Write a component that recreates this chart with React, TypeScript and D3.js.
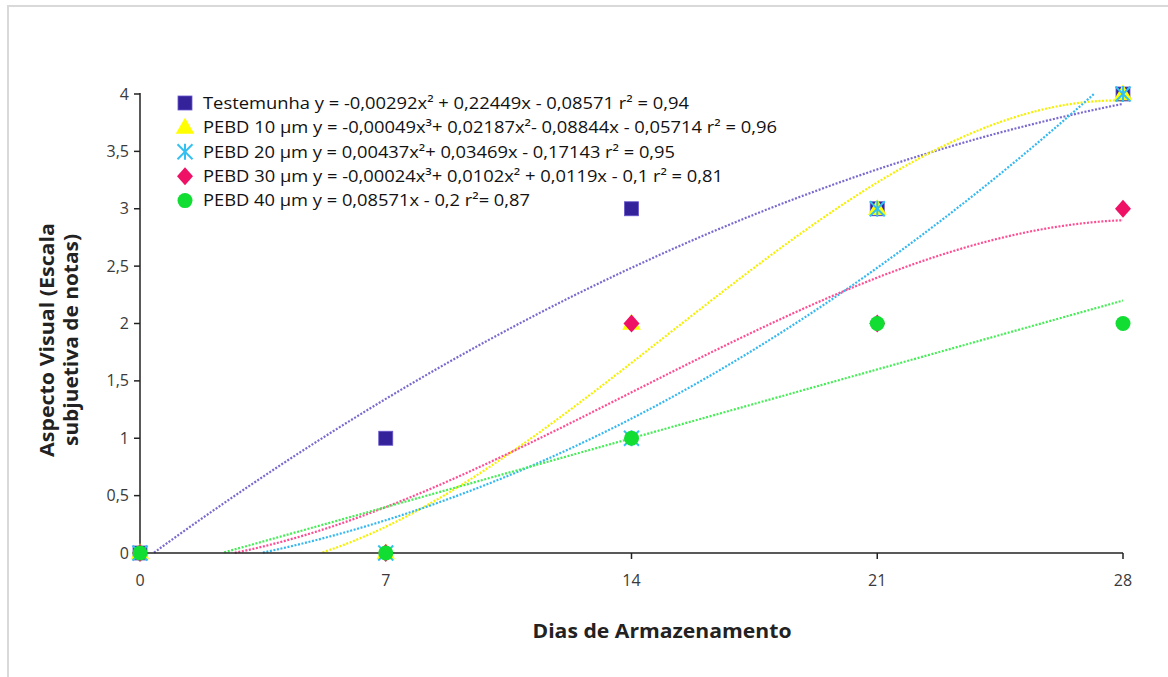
import React from "react";
import * as d3 from "d3";

const days = [0, 7, 14, 21, 28];
const yTicks = [0, 0.5, 1, 1.5, 2, 2.5, 3, 3.5, 4];
const testemunha = [0, 1, 3, 3, 4];
const pebd10 = [0, 0, 2, 3, 4];
const pebd20 = [0, 0, 1, 3, 4];
const pebd30 = [0, 0, 2, 2, 3];
const pebd40 = [0, 0, 1, 2, 2];

// least-squares polynomial degree for each trendline
const degrees = [2, 3, 2, 3, 1];

const labels = [
  "Testemunha y = -0,00292x² + 0,22449x - 0,08571 r² = 0,94",
  "PEBD 10 µm y = -0,00049x³+ 0,02187x²- 0,08844x - 0,05714 r² = 0,96",
  "PEBD 20 µm y = 0,00437x²+ 0,03469x - 0,17143 r² = 0,95",
  "PEBD 30 µm y = -0,00024x³+ 0,0102x² + 0,0119x - 0,1 r² = 0,81",
  "PEBD 40 µm y = 0,08571x - 0,2 r²= 0,87",
];
const labelWidths = [486, 574, 472, 520, 327];

const seriesValues = [testemunha, pebd10, pebd20, pebd30, pebd40];
const markers = ["square", "triangle", "star", "diamond", "circle"];
const markerColors = ["#33229a", "#ffff00", "#33c0f0", "#ee1166", "#11dd33"];
const lineColors = ["#7a6ad0", "#f5f000", "#33b8f0", "#ff4d94", "#44ee55"];

// least squares polynomial fit (normal equations, Gaussian elimination)
function polyfit(xs: number[], ys: number[], deg: number): number[] {
  const n = deg + 1;
  const A: number[][] = [];
  for (let i = 0; i < n; i++) {
    A.push([]);
    for (let j = 0; j < n; j++) A[i].push(d3.sum(xs, (x) => Math.pow(x, i + j)));
    A[i].push(d3.sum(xs, (x, k) => Math.pow(x, i) * ys[k]));
  }
  for (let c = 0; c < n; c++) {
    let p = c;
    for (let r = c + 1; r < n; r++) if (Math.abs(A[r][c]) > Math.abs(A[p][c])) p = r;
    [A[c], A[p]] = [A[p], A[c]];
    for (let r = 0; r < n; r++) {
      if (r === c) continue;
      const f = A[r][c] / A[c][c];
      for (let k = c; k <= n; k++) A[r][k] -= f * A[c][k];
    }
  }
  return A.map((row, i) => row[n] / row[i]);
}

const FONT = "'Open Sans', Lato, sans-serif";

function Marker({ type, x, y, color }: { type: string; x: number; y: number; color: string }) {
  if (type === "square") return <rect x={x - 7} y={y - 7} width={14} height={14} fill={color} stroke="#6655cc" strokeWidth={0.8} />;
  if (type === "triangle")
    return <path d={d3.symbol(d3.symbolTriangle, 150)() || ""} transform={`translate(${x},${y + 1})`} fill={color} />;
  if (type === "diamond")
    return <path d={`M${x},${y - 9}L${x + 8},${y}L${x},${y + 9}L${x - 8},${y}Z`} fill={color} />;
  if (type === "circle") return <circle cx={x} cy={y} r={7.5} fill={color} />;
  const r = 10;
  return (
    <g stroke={color} strokeWidth={2}>
      <line x1={x - r * 0.75} y1={y - r * 0.75} x2={x + r * 0.75} y2={y + r * 0.75} />
      <line x1={x - r * 0.75} y1={y + r * 0.75} x2={x + r * 0.75} y2={y - r * 0.75} />
      <line x1={x} y1={y - r * 0.8} x2={x} y2={y + r * 0.8} />
    </g>
  );
}

export default function App() {
  const W = 1168, H = 677;
  const x = d3.scaleLinear().domain([0, 28]).range([140, 1123]);
  const y = d3.scaleLinear().domain([0, 4]).range([553, 94]);
  const poly = (c: number[], t: number) => c.reduce((s, ci, i) => s + ci * Math.pow(t, i), 0);
  const samples = d3.range(0, 28.001, 0.1);
  const lineGen = d3
    .line<[number, number]>()
    .defined((d) => d[1] >= 0 && d[1] <= 4.02)
    .x((d) => x(d[0]))
    .y((d) => y(d[1]));

  return (
    <svg width={W} height={H} style={{ position: "absolute", left: 0, top: 0 }} fontFamily={FONT}>
      <rect x={0} y={0} width={W} height={H} fill="#fff" />
      <rect x={8} y={6} width={W + 20} height={H + 20} fill="none" stroke="#d9d9d9" strokeWidth={2} />
      {seriesValues.map((vals, i) => {
        const coef = polyfit(days, vals, degrees[i]);
        return (
          <path
            key={"l" + i}
            d={lineGen(samples.map((t) => [t, poly(coef, t)] as [number, number])) || ""}
            fill="none"
            stroke={lineColors[i]}
            strokeWidth={2.2}
            strokeDasharray="2,1.6"
          />
        );
      })}
      <g stroke="#222" strokeWidth={1.5}>
        <line x1={140} y1={y(4) - 1} x2={140} y2={553} />
        <line x1={140} y1={553} x2={1123} y2={553} />
        {yTicks.map((t) => (
          <line key={"yt" + t} x1={134} x2={140} y1={y(t)} y2={y(t)} />
        ))}
        {days.map((d) => (
          <line key={"xt" + d} x1={x(d)} x2={x(d)} y1={553} y2={559} />
        ))}
      </g>
      {yTicks.map((t) => (
        <text key={"yl" + t} x={129} y={y(t)} dy="0.35em" textAnchor="end" fontSize={16} fill="#3a3a3a">
          {String(t).replace(".", ",")}
        </text>
      ))}
      {days.map((d) => (
        <text key={"xl" + d} x={x(d)} y={586} textAnchor="middle" fontSize={16} fill="#3a3a3a">
          {d}
        </text>
      ))}
      {seriesValues.map((vals, i) =>
        vals.map((v, j) => <Marker key={`m${i}-${j}`} type={markers[i]} x={x(days[j])} y={y(v)} color={markerColors[i]} />)
      )}
      {labels.map((lab, i) => (
        <g key={"lg" + i}>
          <Marker type={markers[i]} x={185} y={103 + i * 24.4} color={markerColors[i]} />
          <text
            x={203}
            y={103 + i * 24.4}
            dy="0.35em"
            fontSize={16.5}
            fill="#111"
            textLength={labelWidths[i]}
            lengthAdjust="spacingAndGlyphs"
          >
            {lab}
          </text>
        </g>
      ))}
      <text x={662} y={638} textAnchor="middle" fontSize={19} fontWeight="bold" fill="#222" textLength={259} lengthAdjust="spacingAndGlyphs">
        Dias de Armazenamento
      </text>
      <g transform="translate(0,340) rotate(-90)" fontSize={19} fontWeight="bold" fill="#222" textAnchor="middle">
        <text x={0} y={54} textLength={234} lengthAdjust="spacingAndGlyphs">Aspecto Visual (Escala</text>
        <text x={0} y={78} textLength={212} lengthAdjust="spacingAndGlyphs">subjuetiva de notas)</text>
      </g>
    </svg>
  );
}
